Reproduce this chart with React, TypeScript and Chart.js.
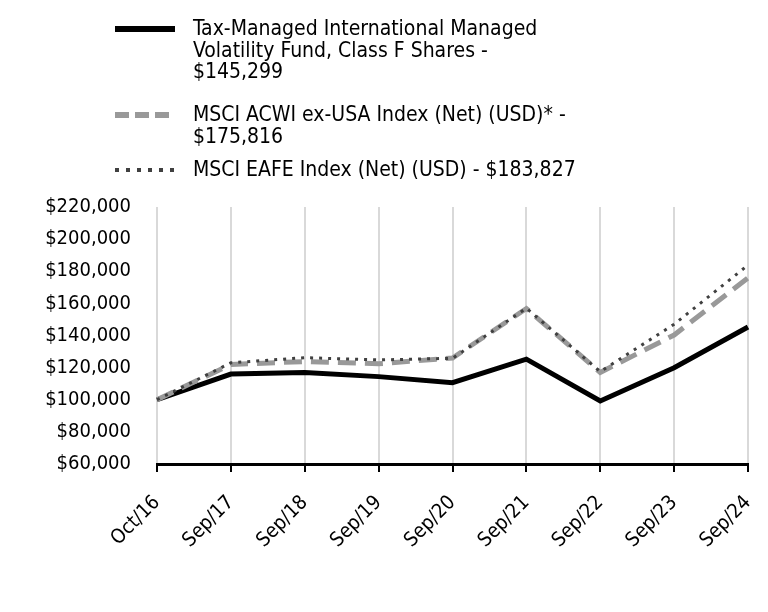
import React, { useEffect, useRef } from "react";
import { Chart, registerables } from "chart.js";

Chart.register(...registerables);

const categories = ["Oct/16", "Sep/17", "Sep/18", "Sep/19", "Sep/20", "Sep/21", "Sep/22", "Sep/23", "Sep/24"];
const fundValues = [100000, 116000, 117000, 114400, 110600, 125300, 99200, 119900, 145299];
const acwiValues = [100000, 122000, 123800, 122400, 126000, 156800, 117000, 140300, 175816];
const eafeValues = [100000, 123000, 126200, 124800, 125800, 157000, 117500, 147000, 183827];
const fundLabel = ["Tax-Managed International Managed", "Volatility Fund, Class F Shares -", "$145,299"];
const acwiLabel = ["MSCI ACWI ex-USA Index (Net) (USD)* -", "$175,816"];
const eafeLabel = ["MSCI EAFE Index (Net) (USD) - $183,827"];
const yMin = 60000;
const yMax = 220000;
const yStep = 20000;

const FONT = "'DejaVu Sans Condensed', 'DejaVu Sans', sans-serif";
const FS = 20;
const LEGEND_FS = 21;

function LegendItem(props: { top: number; lines: string[]; stroke: string; width: number; dash?: string }) {
  return (
    <div style={{ position: "absolute", left: 0, top: props.top, width: 700 }}>
      <svg width={70} height={12} style={{ position: "absolute", left: 107, top: 5 }}>
        <line x1={0} y1={6} x2={60} y2={6} stroke={props.stroke} strokeWidth={props.width} strokeDasharray={props.dash} />
      </svg>
      <div style={{ position: "absolute", left: 185, top: 0, fontFamily: FONT, fontSize: LEGEND_FS, lineHeight: "21.5px", color: "#000", whiteSpace: "nowrap" }}>
        {props.lines.map((l, i) => (
          <div key={i}>{l}</div>
        ))}
      </div>
    </div>
  );
}

export default function App() {
  const ref = useRef<HTMLCanvasElement | null>(null);
  useEffect(() => {
    if (!ref.current) return;
    const chart = new Chart(ref.current, {
      type: "line",
      data: {
        labels: categories,
        datasets: [
          {
            label: fundLabel.join(" "),
            data: fundValues,
            borderColor: "#000000",
            borderWidth: 5,
            pointRadius: 0,
            tension: 0,
            order: 2,
          },
          {
            label: acwiLabel.join(" "),
            data: acwiValues,
            borderColor: "#999999",
            borderWidth: 5,
            borderDash: [18, 9],
            pointRadius: 0,
            tension: 0,
            order: 1,
          },
          {
            label: eafeLabel.join(" "),
            data: eafeValues,
            borderColor: "#404040",
            borderWidth: 3,
            borderDash: [3, 6],
            pointRadius: 0,
            tension: 0,
            order: 0,
          },
        ],
      },
      options: {
        animation: false,
        responsive: false,
        maintainAspectRatio: false,
        layout: { padding: { top: 199, right: 12, left: 0, bottom: 0 } },
        plugins: { legend: { display: false }, tooltip: { enabled: false } },
        scales: {
          x: {
            grid: { display: true, color: "#d9d9d9", lineWidth: 2, tickColor: "#000", tickLength: 8, drawOnChartArea: true },
            border: { display: true, color: "#000", width: 3 },
            ticks: { color: "#000", font: { family: FONT, size: FS }, maxRotation: 45, minRotation: 45, padding: 19 },
            afterFit: (s: any) => { s.height = 140; s.paddingRight = 0; s.paddingLeft = 0; },
          },
          y: {
            min: yMin,
            max: yMax,
            grid: { display: false },
            border: { display: false },
            ticks: {
              stepSize: yStep,
              color: "#000",
              font: { family: FONT, size: FS },
              padding: 18,
              callback: (v: any) => "$" + Number(v).toLocaleString("en-US"),
            },
            afterFit: (s: any) => { s.width = 149; s.paddingTop = 0; s.paddingBottom = 0; },
          },
        },
      },
    });
    return () => chart.destroy();
  }, []);
  return (
    <div style={{ position: "relative", width: 752, height: 596 }}>
      <canvas ref={ref} width={752} height={596} style={{ position: "absolute", left: 0, top: 0 }} />
      <LegendItem top={10} lines={fundLabel} stroke="#000" width={6} />
      <LegendItem top={96} lines={acwiLabel} stroke="#999999" width={6} dash="14 6" />
      <LegendItem top={151} lines={eafeLabel} stroke="#404040" width={4} dash="4 7" />
    </div>
  );
}
